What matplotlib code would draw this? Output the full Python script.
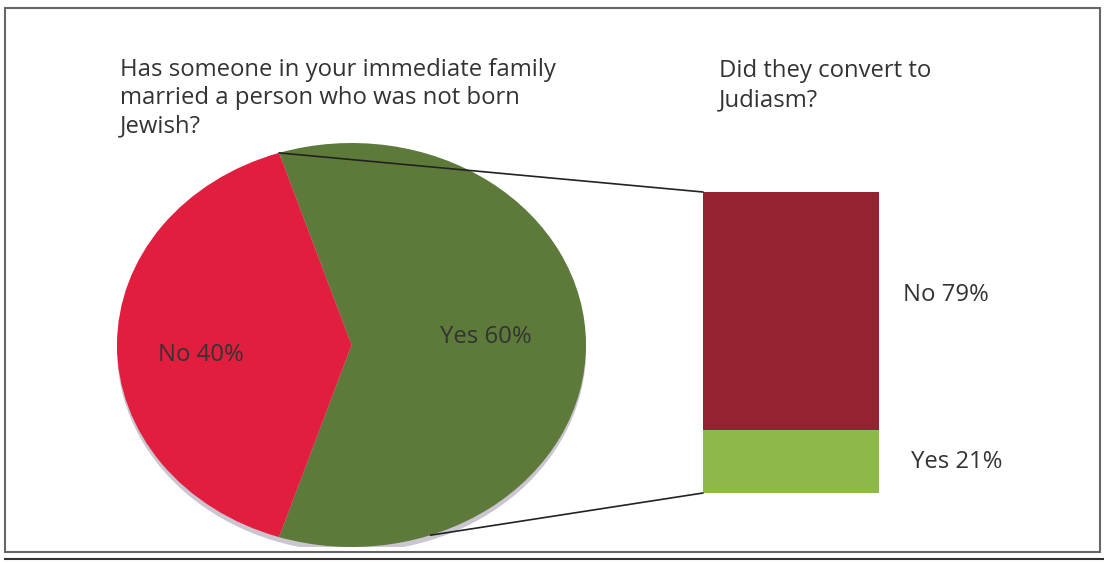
import matplotlib
matplotlib.use("Agg")
import matplotlib.pyplot as plt
from matplotlib.patches import ConnectionPatch, Rectangle, Ellipse
import numpy as np

plt.rcParams['font.family'] = ['Open Sans', 'DejaVu Sans']

# Data
pie_labels = ["Yes", "No"]
pie_values = [60, 40]
bar_labels = ["Yes", "No"]
bar_values = [21, 79]
title_left = "Has someone in your immediate family\nmarried a person who was not born\nJewish?"
title_right = "Did they convert to\nJudiasm?"

pie_colors = ["#5E7A3A", "#E21E3E"]
bar_colors = ["#8DB94A", "#962131"]
text_color = "#333333"

W, H = 1104, 564
fig = plt.figure(figsize=(W / 100, H / 100), dpi=100)
fig.patch.set_facecolor("white")

def fx(px):
    return px / W

def fy(py):
    return 1 - py / H

# Pie axes (ellipse)
pl, pr, pt, pb = 117, 586, 143, 547
ax_pie = fig.add_axes([fx(pl), fy(pb), (pr - pl) / W, (pb - pt) / H])
ax_pie.add_patch(Ellipse((0.0, -0.025), 2.0, 2.0, facecolor="#8a8098", edgecolor="none", alpha=0.45, zorder=0))
wedges, _ = ax_pie.pie(pie_values, colors=pie_colors, startangle=108, counterclock=False,
                       wedgeprops=dict(linewidth=0))
ax_pie.set_aspect("auto")
ax_pie.set_xlim(-1.0, 1.0)
ax_pie.set_ylim(-1.0, 1.0)
ax_pie.axis("off")
fs = 17.2
ax_pie.text(-0.644, -0.05, f"{pie_labels[1]} {pie_values[1]}%", ha="center", va="center",
            fontsize=fs, color=text_color)
ax_pie.text(0.571, 0.04, f"{pie_labels[0]} {pie_values[0]}%", ha="center", va="center",
            fontsize=fs, color=text_color)

# Bar axes
bl, br, bt, bb = 703, 879, 192, 493
ax_bar = fig.add_axes([fx(bl), fy(bb), (br - bl) / W, (bb - bt) / H])
bottom = 0
for lab, val, col in zip(bar_labels, bar_values, bar_colors):
    ax_bar.bar(0, val, width=1.0, bottom=bottom, color=col, linewidth=0)
    bottom += val
ax_bar.set_xlim(-0.5, 0.5)
ax_bar.set_ylim(0, 100)
ax_bar.axis("off")
ax_bar.text(0.636, 65.8, f"{bar_labels[1]} {bar_values[1]}%", ha="left", va="center",
            fontsize=fs, color=text_color, clip_on=False)
ax_bar.text(0.68, 10.3, f"{bar_labels[0]} {bar_values[0]}%", ha="left", va="center",
            fontsize=fs, color=text_color, clip_on=False)

# Connector lines
a_top = np.deg2rad(108)
con1 = ConnectionPatch(xyA=(np.cos(a_top), np.sin(a_top)), coordsA=ax_pie.transData,
                       xyB=(-0.5, 100), coordsB=ax_bar.transData, color="#222222", lw=1.2)
fig.add_artist(con1)
bx = 0.337
con2 = ConnectionPatch(xyA=(bx, -np.sqrt(1 - bx ** 2)), coordsA=ax_pie.transData,
                       xyB=(-0.5, 0), coordsB=ax_bar.transData, color="#222222", lw=1.2)
fig.add_artist(con2)

# Titles
fig.text(fx(120), fy(58), title_left, ha="left", va="top", fontsize=fs, color=text_color,
         linespacing=1.22)
fig.text(fx(719), fy(59), title_right, ha="left", va="top", fontsize=fs, color=text_color,
         linespacing=1.3)

# Frame
fig.add_artist(Rectangle((fx(5), fy(552)), (1100 - 5) / W, (552 - 8) / H, transform=fig.transFigure,
                         fill=False, edgecolor="#666666", linewidth=1.5))
fig.add_artist(plt.Line2D([fx(5), fx(1104)], [fy(559), fy(559)], transform=fig.transFigure,
                          color="#333333", linewidth=1.5))

fig.savefig("out.png", dpi=100)
